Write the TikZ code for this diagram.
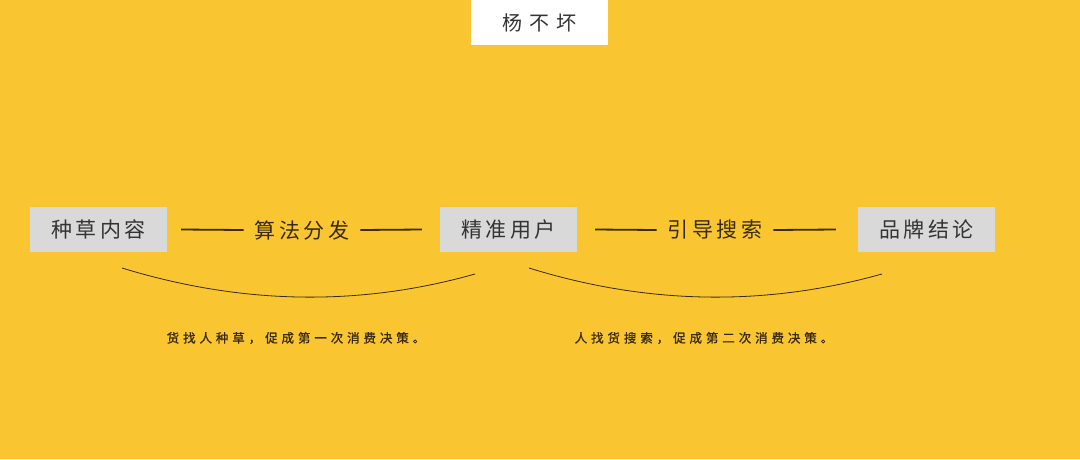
\documentclass[tikz,border=0pt]{standalone}
\usepackage{fontspec}
\newfontfamily\cjk{Noto Sans CJK SC}
\newfontfamily\cjkbold{Noto Sans CJK SC}[FakeBold=1.2]
\definecolor{bg}{HTML}{F9C631}
\definecolor{boxgray}{HTML}{D9D9D9}
\definecolor{txtdark}{HTML}{333333}
\definecolor{brown}{HTML}{3A2A0C}
\newcommand\kk{\kern3.5pt}
\newcommand\kc{\kern3.9pt}
\newcommand\kt{\kern7pt}
\begin{document}
\begin{tikzpicture}[x=1pt,y=-1pt,
  stepbox/.style={fill=boxgray,minimum width=137pt,minimum height=45pt,inner sep=0pt,
    font=\cjk\fontsize{21}{21}\selectfont,text=txtdark},
  midlabel/.style={inner sep=0pt,font=\cjk\fontsize{21}{21}\selectfont,text=brown},
  link/.style={draw=brown,line width=1.8pt},
  arcline/.style={draw=brown,line width=0.8pt},
  caption/.style={inner sep=0pt,font=\cjkbold\fontsize{12.5}{12.5}\selectfont,text=brown}]
\useasboundingbox (0,0) rectangle (1080,459);
\fill[bg] (0,0) rectangle (1080,459);
\node[fill=white,minimum width=137pt,minimum height=45pt,inner sep=0pt,
  font=\cjk\fontsize{20}{20}\selectfont,text=txtdark] (title) at (539.5,22.5) {杨\kt 不\kt 坏};
\node[stepbox] (a) at (98.5,229.5) {种\kk 草\kk 内\kk 容};
\node[stepbox] (b) at (508.5,229.5) {精\kk 准\kk 用\kk 户};
\node[stepbox] (c) at (926.5,229.5) {品\kk 牌\kk 结\kk 论};
\node[midlabel] (l1) at (302,230) {算\kk 法\kk 分\kk 发};
\node[midlabel] (l2) at (715,230) {引\kk 导\kk 搜\kk 索};
\draw[link] ([xshift=14pt]a.east) -- ([xshift=-11pt]l1.west);
\draw[link] ([xshift=11pt]l1.east) -- ([xshift=-18pt]b.west);
\draw[link] ([xshift=18pt]b.east) -- ([xshift=-11pt]l2.west);
\draw[link] ([xshift=11pt]l2.east) -- ([xshift=-22pt]c.west);
\coordinate (s1) at (122,268);
\coordinate (e1) at (475,274);
\coordinate (s2) at (529,268);
\coordinate (e2) at (882,274);
\draw[arcline] (s1) .. controls (241.7,304.7) and (359.3,306.7) .. (e1);
\draw[arcline] (s2) .. controls (647,304.7) and (764.7,306.7) .. (e2);
\node[caption] (c1) at (296,338) {货\kc 找\kc 人\kc 种\kc 草\kc ，\kc 促\kc 成\kc 第\kc 一\kc 次\kc 消\kc 费\kc 决\kc 策\kc 。};
\node[caption] (c2) at (704,338) {人\kc 找\kc 货\kc 搜\kc 索\kc ，\kc 促\kc 成\kc 第\kc 二\kc 次\kc 消\kc 费\kc 决\kc 策\kc 。};
\end{tikzpicture}
\end{document}
